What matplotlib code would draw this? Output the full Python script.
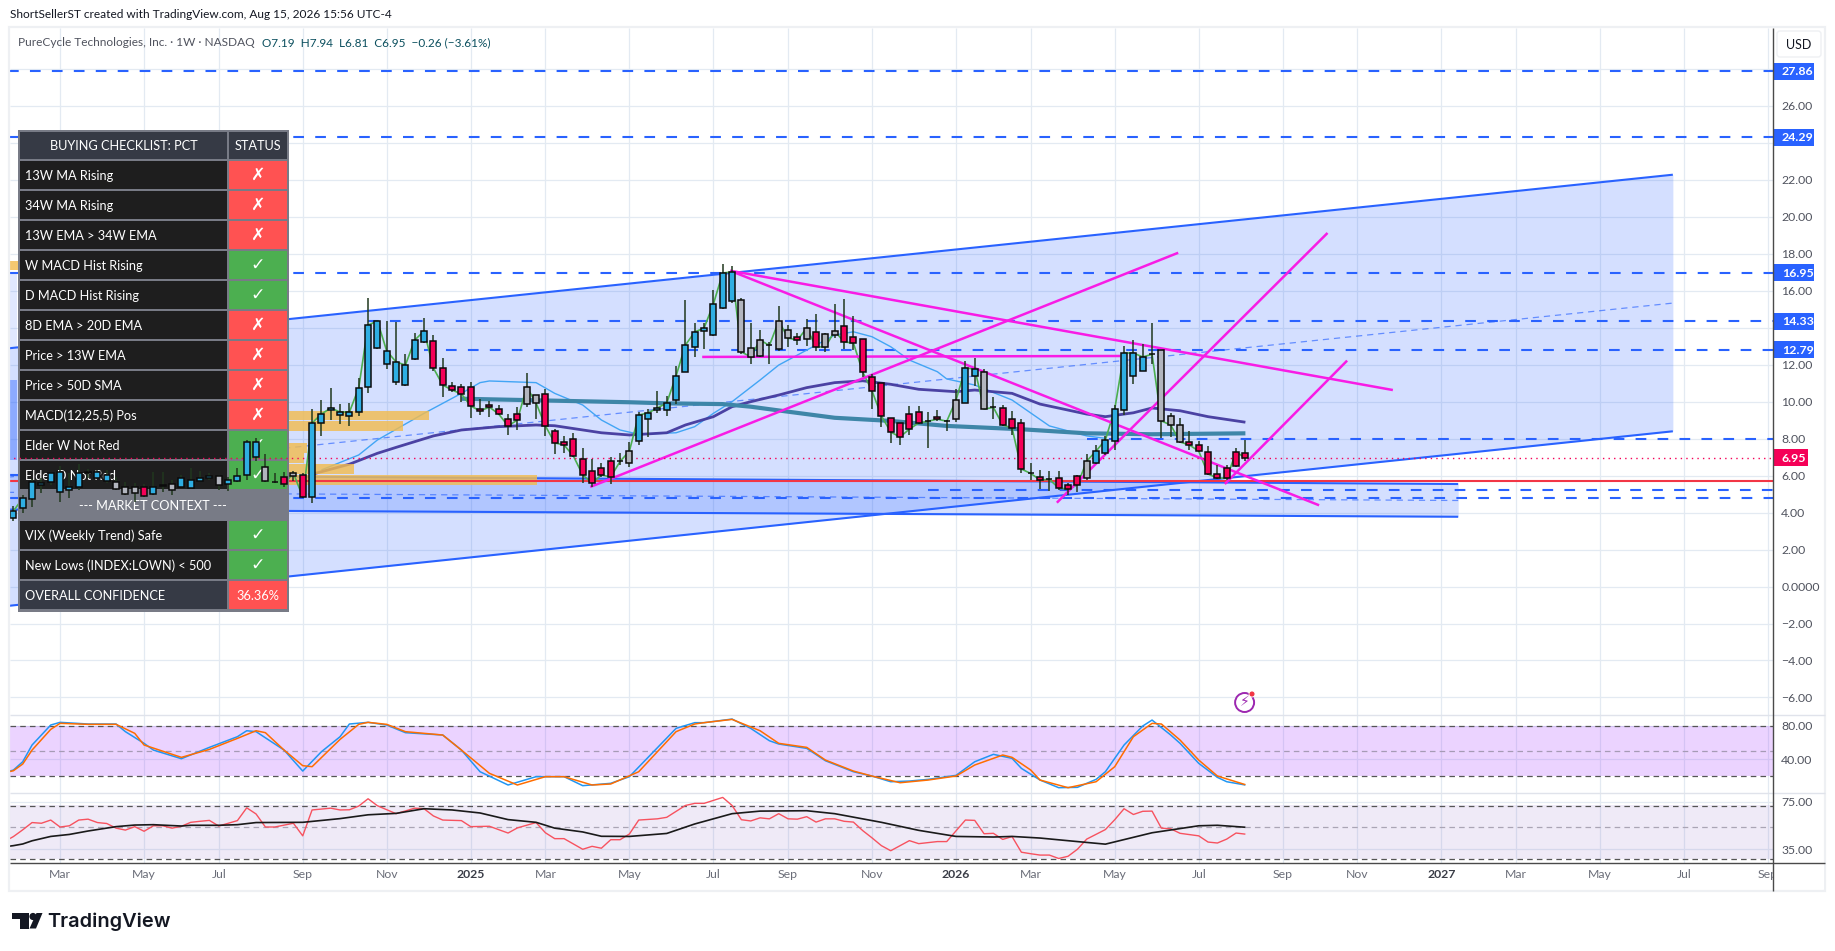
import matplotlib
matplotlib.use("Agg")
import matplotlib.pyplot as plt
from matplotlib.patches import Rectangle, Polygon, Circle, FancyBboxPatch
from matplotlib.transforms import Affine2D

plt.rcParams['font.family'] = ['Lato', 'DejaVu Sans']
plt.rcParams['lines.scale_dashes'] = False
plt.rcParams['lines.solid_capstyle'] = 'butt'

# ---------- weekly candles ----------
opens = [3.72,4.26,4.71,5.47,5.63,5.12,5.20,5.36,6.12,5.85,5.69,5.63,5.36,5.36,5.39,4.98,5.49,5.20,5.36,5.31,5.69,5.85,5.47,5.52,5.69,
         6.01,7.00,6.46,5.67,5.92,5.97,6.03,4.84,8.84,9.54,9.27,9.22,9.43,10.78,12.89,12.03,11.05,10.89,12.30,13.22,13.27,11.81,10.84,10.78,10.78,
         9.59,9.81,9.59,9.05,9.32,9.86,10.35,10.41,8.41,7.81,7.97,6.89,6.24,6.41,6.78,6.80,6.68,7.87,9.05,9.54,9.54,10.08,11.59,12.95,13.81,
         13.59,15.05,15.43,15.49,12.89,12.46,13.07,12.84,13.86,13.49,13.38,13.76,13.65,13.59,14.08,13.49,13.38,11.32,11.00,9.11,8.84,9.32,9.43,8.97,9.16,
         8.97,9.05,9.92,11.38,11.59,9.72,9.65,9.05,8.84,6.15,5.92,5.83,5.86,5.49,5.97,5.86,6.68,7.22,7.87,9.54,11.38,11.65,12.59,12.78,9.22,
         8.73,7.81,7.65,7.27,6.08,6.41,6.51,7.19]
highs = [4.35,4.95,5.81,5.85,6.19,6.51,6.13,6.62,6.35,6.30,6.30,5.93,5.66,5.59,5.54,6.20,6.20,5.76,6.03,6.39,6.26,6.15,6.03,5.90,6.39,
         7.90,8.03,7.16,6.13,6.19,6.24,6.13,9.59,10.08,10.73,9.86,9.92,11.27,15.59,14.35,14.35,14.30,12.57,13.70,14.51,13.59,12.35,11.05,10.95,11.05,
         10.14,10.03,9.81,9.32,9.70,11.54,10.35,10.68,8.51,8.14,8.30,7.49,6.89,6.68,7.00,7.22,7.81,9.43,9.59,10.57,10.30,11.92,15.49,14.24,14.24,
         16.03,17.43,17.32,15.59,14.24,13.86,13.22,15.16,14.14,13.70,14.46,14.73,13.70,15.27,15.54,14.62,13.38,11.49,11.00,9.11,8.84,9.76,9.76,9.43,9.54,
         9.00,10.68,12.19,12.35,11.76,10.24,9.81,9.49,9.05,6.68,6.30,6.24,6.24,5.59,6.03,7.16,7.65,8.14,9.81,13.00,13.32,13.11,14.24,12.78,9.38,
         9.11,8.41,7.86,7.59,6.57,6.57,7.49,7.94]
lows = [3.54,3.97,4.30,5.05,5.49,4.57,4.78,5.22,5.86,5.81,5.59,5.22,4.95,4.58,4.85,4.95,5.11,4.95,5.31,5.27,5.66,5.76,5.22,5.18,5.63,
        5.76,6.80,5.65,5.59,5.38,5.70,4.78,4.51,8.13,9.00,8.78,8.68,9.22,10.46,12.84,11.76,10.89,10.84,12.24,13.16,11.65,10.24,10.51,9.97,9.11,
        9.27,9.16,9.27,8.19,8.46,9.70,9.05,8.14,7.16,7.22,7.00,5.59,5.38,5.92,5.54,6.57,6.46,7.65,8.08,9.38,9.22,9.86,11.59,12.41,12.84,
        13.54,15.00,15.32,12.57,12.03,12.41,12.05,12.73,12.95,13.05,13.00,12.73,12.68,13.43,12.84,12.78,11.32,9.59,8.62,7.76,7.65,8.19,8.78,7.49,8.95,
        8.41,8.89,9.92,10.84,9.59,9.05,8.68,8.19,6.13,5.76,5.27,5.16,5.22,4.95,5.11,5.76,6.62,7.11,7.38,9.27,10.95,11.65,12.03,8.03,8.08,
        7.76,7.38,7.27,6.03,5.81,5.76,6.46,6.81]
closes = [4.08,4.77,5.66,5.58,6.12,6.20,5.36,6.12,6.20,6.17,6.01,5.25,4.98,5.04,4.87,5.36,5.43,5.52,5.85,5.74,5.85,5.96,5.96,5.74,5.96,
          7.81,7.81,5.70,5.65,5.54,6.13,4.84,8.84,9.32,9.65,9.43,9.43,10.73,14.13,14.35,12.73,12.14,11.97,13.32,13.81,11.81,10.89,10.62,10.41,9.76,
          9.49,9.70,9.32,8.68,9.00,10.78,9.92,8.68,7.76,7.65,7.05,6.03,5.59,6.03,5.92,6.76,7.32,9.27,9.38,9.65,9.92,11.38,13.05,13.76,13.97,
          15.27,16.95,17.00,12.68,12.41,13.32,13.03,14.35,13.43,13.32,13.97,12.95,12.95,13.81,13.22,13.16,11.59,10.57,9.22,8.35,8.08,8.51,8.84,8.93,9.05,
          8.93,10.08,11.81,11.76,9.59,9.68,8.73,8.57,6.35,6.11,5.76,5.79,5.32,5.27,5.49,6.78,7.32,7.92,9.59,12.62,12.62,12.41,12.55,8.95,8.73,
          7.81,7.65,7.32,6.08,5.86,5.86,7.27,6.95]
kinds = list("bbbbbbbbbbbgggrbkgbbbbgbb" "bbgkrgrbbbbbbbbbbbbbrrrrr"
             "rrrrrggrrrrrrrrkgbbbbbbbb" "bbbgggkggrgrggrrrrrrrrrkr"
             "kgbbgkrrrkrkrrrgbbbbbbkgg" "grrrrrrr")
candle_colors = {'b': '#2FAEE3', 'r': '#F50057', 'g': '#B2B5BE', 'k': '#111111'}

# ---------- moving averages, read at bar positions ----------
ma_long_x = [48,66,70,76,79,83,88,94,100,108,115,122,132]
ma_long_y = [10.15,9.96,9.90,9.86,9.72,9.45,9.12,8.95,8.68,8.50,8.28,8.23,8.28]
ma_mid_x = [32,36,39,41,45,48,52,56,58,63,66,70,72,75,77,79,82,85,88,91,94,97,101,103,107,110,115,117,120,122,125,128,132]
ma_mid_y = [6.07,6.61,7.20,7.52,8.14,8.46,8.64,8.73,8.69,8.31,8.19,8.31,8.73,9.18,9.72,9.99,10.35,10.75,11.02,11.12,10.93,10.66,10.53,10.62,10.44,9.86,9.32,9.18,9.39,9.65,9.50,9.18,8.88]
ma_fast_x = [33,37,39,44,48,50,51,56,58,61,63,65,67,71,73,75,77,80,82,85,88,90,92,94,96,99,100,103,107,111,115,117]
ma_fast_y = [6.30,7.11,7.92,9.36,10.44,11.02,11.11,11.02,10.44,9.81,9.00,8.46,8.23,8.31,8.64,9.36,9.99,11.16,11.97,12.78,13.59,13.77,13.50,12.96,12.24,11.61,11.22,10.89,10.08,8.68,8.14,8.01]

# ---------- drawn levels ----------
level_values = [27.86,24.29,16.95,14.33,12.79,7.97,5.22,4.78]
level_starts = [-0.6,-0.6,-0.6,38,44,115,98,-0.6]
axis_labels = ['27.86','24.29','16.95','14.33','12.79']
axis_label_values = [27.86,24.29,16.95,14.33,12.79]
last_close = 6.95
support_level = 5.70

# channels: start bar, end bar, then upper / lower values at start and end
wedge_x = [-0.6,177.8]
wedge_up = [12.87,22.26]
wedge_low = [-1.05,8.39]
wedge_mid = [5.91,15.32]
flat_x = [-0.6,154.8]
flat_up = [6.03,5.54]
flat_low = [4.16,3.77]
flat_mid = [5.09,4.65]

# magenta trend lines
trend_lines = [([73.8,118.6],[12.41,12.46]),
               ([61.8,124.8],[5.38,18.04]),
               ([76.8,147.8],[17.07,10.62]),
               ([76.8,139.9],[17.07,4.39]),
               ([111.8,140.8],[4.53,19.11]),
               ([129.8,142.9],[5.54,12.21])]

# orange zones: start bar, end bar, upper, lower
zone_start = [5,5,5,5,5,5,-0.6]
zone_end = [44.5,41.7,31.5,31.1,36.5,56.1,12]
zone_up = [9.49,8.96,7.74,7.20,6.62,6.01,17.59]
zone_low = [9.02,8.42,7.20,6.68,6.08,5.49,17.11]

# ---------- stochastic ----------
k_x = [-1,0,1,2,4,5,8,11,12,14,15,18,21,24,25,26,29,31,33,35,36,38,40,42,46,48,50,53,56,59,61,64,66,71,73,74,77,79,81,82,85,87,90,92,94,96,98,101,103,105,107,108,110,112,114,116,117,119,121,122,124,125,127,129,130,132]
k_y = [24.0,27.2,37.1,57.0,80.8,84.0,82.0,82.0,72.9,59.0,51.0,40.7,54.2,66.9,74.0,72.9,51.0,26.0,49.0,66.9,82.0,84.0,80.8,71.7,68.9,51.0,25.2,9.4,19.3,19.3,8.6,11.4,19.3,76.8,83.6,83.6,87.9,76.8,62.1,58.2,53.0,38.3,25.2,20.0,13.3,14.1,16.1,20.9,37.1,45.9,41.1,29.2,15.3,6.2,6.6,16.1,25.2,57.0,79.6,86.7,68.9,59.0,35.2,18.5,13.3,9.4]
d_x = [-1,0,1,2,4,5,8,11,13,14,18,21,24,26,27,29,31,32,35,37,38,40,42,46,48,51,54,57,59,62,64,67,71,73,74,77,80,82,85,87,90,92,95,98,101,103,106,107,109,110,113,116,118,120,122,123,125,127,129,132]
d_y = [24.0,26.4,34.4,51.0,75.6,82.8,81.6,81.6,70.9,57.0,42.3,51.8,64.9,74.0,71.7,51.0,32.4,31.2,63.7,81.6,84.0,81.6,72.9,68.9,51.0,23.3,9.4,19.3,19.3,9.4,10.6,25.2,72.9,82.0,83.6,87.5,74.0,59.0,54.2,39.1,26.0,20.0,12.1,15.3,20.1,33.2,45.1,42.3,27.2,15.3,6.2,13.3,31.2,66.9,82.8,82.0,62.9,39.1,20.1,9.8]
stoch_levels = [80,50,20]

# ---------- RSI ----------
rsi_x = [-1,0,1,2,3,4,5,6,7,8,9,10,11,12,13,14,15,16,17,18,19,20,21,22,24,25,26,27,28,30,31,32,34,35,36,37,38,39,41,43,44,45,46,48,49,51,53,54,56,57,58,59,61,62,63,64,65,66,67,69,70,72,73,74,76,77,78,79,80,81,82,83,84,85,86,87,88,89,90,91,92,93,94,96,97,99,100,102,103,104,105,106,107,108,109,110,111,112,113,114,115,117,118,119,120,121,122,123,124,125,127,128,129,130,131,132]
rsi_y = [39.5,42.9,47.8,53.7,53.1,55.9,50.0,51.0,55.9,56.7,53.7,52.9,49.1,47.6,50.3,46.7,51.0,51.0,49.1,50.6,53.9,54.8,55.6,50.8,55.4,68.0,61.6,50.0,50.0,53.1,43.4,65.7,67.6,65.7,65.9,69.9,78.6,70.3,61.9,67.6,67.0,59.7,55.9,55.4,50.3,50.6,45.4,49.3,53.7,45.6,41.5,41.5,35.0,36.7,35.6,40.8,40.8,44.7,55.9,57.0,58.4,70.6,73.0,73.0,80.3,70.6,56.2,55.1,57.9,57.0,61.9,57.0,56.7,59.0,54.1,57.0,57.0,54.8,54.1,47.2,42.0,37.1,34.2,40.2,38.3,39.6,39.6,55.9,55.6,44.9,45.2,41.0,42.9,33.4,32.6,31.9,31.9,30.2,31.3,35.0,41.2,48.0,56.2,67.0,61.1,64.3,64.5,49.1,48.6,45.2,43.4,39.3,38.7,41.2,45.4,44.6]
rsi_ma_x = [-1,0,1,2,4,6,8,11,13,15,18,19,22,24,26,31,35,38,41,44,47,50,53,56,58,61,63,66,70,73,77,80,85,88,93,97,101,105,107,110,114,117,122,127,129,132]
rsi_ma_y = [36.4,37.1,38.1,40.1,43.0,44.4,46.9,50.3,51.6,51.9,50.8,51.4,51.4,51.9,53.7,53.9,57.2,60.8,62.2,67.0,65.7,62.6,56.3,53.9,49.1,46.2,43.1,43.0,45.1,52.5,61.9,64.5,64.9,61.9,53.9,47.4,43.0,42.6,43.0,41.9,39.6,38.0,45.6,51.0,51.4,49.8]
rsi_levels = [70,50,30]

# ---------- axes labels ----------
month_ticks = [5,14,22,31,40,49,57,66,75,83,92,101,109,118,127,136,144,153,161,170,179,188]
month_labels = ['Mar','May','Jul','Sep','Nov','2025','Mar','May','Jul','Sep','Nov','2026','Mar','May','Jul','Sep','Nov','2027','Mar','May','Jul','Sep']
price_ticks = [28,26,24,22,20,18,16,14,12,10,8,6,4,2,0,-2,-4,-6]
price_tick_labels = ['','26.00','','22.00','20.00','18.00','16.00','','12.00','10.00','8.00','6.00','4.00','2.00','0.0000','\u22122.00','\u22124.00','\u22126.00']

# ---------- table ----------
table_rows = ['13W MA Rising','34W MA Rising','13W EMA > 34W EMA','W MACD Hist Rising','D MACD Hist Rising','8D EMA > 20D EMA',
              'Price > 13W EMA','Price > 50D SMA','MACD(12,25,5) Pos','Elder W Not Red','Elder D Not Red','--- MARKET CONTEXT ---',
              'VIX (Weekly Trend) Safe','New Lows (INDEX:LOWN) < 500']
table_status = [0,0,0,1,1,0,0,0,0,1,1,None,1,1]

W, H = 1835, 951
LOGIC_L, LOGIC_R = 9.5, 1773
XMIN, XMAX = -0.418, 188.53
fig = plt.figure(figsize=(W/100, H/100), dpi=100, facecolor='white')
px = Affine2D().scale(1, -1).translate(0, H)

def pane(top, bot):
    a = fig.add_axes([LOGIC_L/W, (H-bot)/H, (LOGIC_R-LOGIC_L)/W, (bot-top)/H])
    for s in a.spines.values():
        s.set_visible(False)
    a.set_facecolor('none')
    a.set_xlim(XMIN, XMAX)
    a.set_xticks(month_ticks)
    a.tick_params(length=0, labelbottom=False, labelleft=False)
    a.grid(axis='both', which='major', color='#E3EAF2', lw=0.9, zorder=0)
    a.set_axisbelow(True)
    a.yaxis.tick_right()
    return a

ax = pane(28, 714.5)
ax1 = pane(714.5, 793)
ax2 = pane(793, 863)
TEXT = '#50535E'
TS = 8.8

# ---- price pane ----
ax.set_ylim(-6.919, 30.19)
ax.set_yticks(price_ticks)
ax.set_yticklabels(price_tick_labels, fontsize=TS, color=TEXT, ha='left')
ax.tick_params(axis='y', pad=6, labelright=True, length=0)

BL = '#2962FF'
ax.fill_between(wedge_x, wedge_up, wedge_low, color=BL, alpha=0.2, lw=0, zorder=1)
ax.fill_between(flat_x, flat_up, flat_low, color=BL, alpha=0.2, lw=0, zorder=1)
ax.fill_between([-0.6, 0.4], [17.0, 17.0], [12.9, 12.9], color=BL, alpha=0.14, lw=0, zorder=1)
ax.fill_between([-0.6, 0.4], [11.16, 11.16], [6.84, 6.84], color=BL, alpha=0.42, lw=0, zorder=1)
for yy in (wedge_up, wedge_low):
    ax.plot(wedge_x, yy, color=BL, lw=1.5, zorder=3)
for yy in (flat_up, flat_low):
    ax.plot(flat_x, yy, color=BL, lw=1.5, zorder=3)
for xx, yy in ((wedge_x, wedge_mid), (flat_x, flat_mid)):
    ax.plot(xx, yy, color=BL, lw=0.9, ls=(0, (4.5, 3.5)), alpha=0.65, zorder=3)
for v, s in zip(level_values, level_starts):
    ax.plot([s, 188.53], [v, v], color=BL, lw=1.5, ls=(0, (7.7, 8.1)), zorder=3)

ax.plot(ma_fast_x, ma_fast_y, color='#42A5F5', lw=1.0, zorder=4)
ax.plot(ma_mid_x, ma_mid_y, color='#443A9E', lw=2.0, alpha=0.95, zorder=4)
ax.plot(ma_long_x, ma_long_y, color='#3E86A8', lw=3.0, zorder=4)

for st, e, u, l in zip(zone_start, zone_end, zone_up, zone_low):
    ax.fill_between([st, e], [u, u], [l, l], color='#F2BC50', alpha=0.82, lw=0, zorder=5)
ax.plot([-0.6, 188.53], [support_level]*2, color='#F23645', lw=1.5, zorder=6)

ax.plot(range(len(closes)), closes, color='#4CAF50', lw=1.2, zorder=6.2)
for xx, yy in trend_lines:
    ax.plot(xx, yy, color='#F81CE5', lw=1.8, zorder=6.5)

# ---- table (pixel layout, below the candles) ----
TL, TM, TR = 20, 227, 229
TE = 287
def cell(x0, y0, x1, y1, c, z=7):
    ax.add_patch(Rectangle((x0, y0), x1-x0, y1-y0, transform=px, fc=c, ec='none', zorder=z, clip_on=False))
def ttext(x, y, s, ha='left', c='white', fs=9.2, weight='normal', fam=None):
    t = ax.text(x, y, s, transform=px, ha=ha, va='center', color=c, fontsize=fs, fontweight=weight, zorder=7.2, clip_on=False)
    if fam:
        t.set_fontfamily(fam)
cell(18, 130, 289, 612, '#787B86', z=6.9)
cell(TL, 132, TM, 159, '#363A45')
cell(TR, 132, TE, 159, '#363A45')
ttext((TL+TM)/2, 145.5, 'BUYING CHECKLIST: PCT', ha='center')
ttext((TR+TE)/2, 145.5, 'STATUS', ha='center')
for k, (name, st) in enumerate(zip(table_rows, table_status)):
    y0 = 160 + 30*k
    if st is None:
        ttext(153, y0+15.5, name, ha='center')
        continue
    cell(TL, y0+1, TM, y0+29, '#1E1E1E')
    cell(TR, y0+1, TE, y0+29, '#4CAF50' if st else '#FF5252')
    ttext(25, y0+15.5, name)
    ttext((TR+TE)/2, y0+15, '\u2713' if st else '\u2717', ha='center', fs=12.5, weight='bold', fam='DejaVu Sans')
y0 = 160 + 30*14
cell(TL, y0+1, TM, y0+29, '#363A45')
cell(TR, y0+1, TE, y0+29, '#FF5252')
ttext(25, y0+15.5, 'OVERALL CONFIDENCE')
ttext((TR+TE)/2, y0+15.5, '36.36%', ha='center')

# ---- candles above the table ----
ax.plot([-0.6, 188.53], [last_close]*2, color='#F50057', lw=1.0, ls=(0, (1, 3)), zorder=7.5)
xs = list(range(len(closes)))
ax.vlines(xs, lows, highs, color='#21381E', lw=1.1, zorder=8)
for i in xs:
    top = max(opens[i], closes[i]); bot = min(opens[i], closes[i])
    ax.add_patch(Rectangle((i-0.33, bot), 0.66, top-bot, fc=candle_colors[kinds[i]], ec='#0B0B0B', lw=1.1, zorder=8.5))

# ---- stochastic pane ----
ax1.set_ylim(-0.12, 93.33)
ax1.set_yticks([80, 40])
ax1.set_yticklabels(['80.00', '40.00'], fontsize=TS, color=TEXT, ha='left')
ax1.tick_params(axis='y', pad=6, labelright=True, length=0)
ax1.axhspan(stoch_levels[2], stoch_levels[0], color='#9C27FF', alpha=0.2, lw=0, zorder=1)
for v, c in zip(stoch_levels, ['#555555', '#A69BB5', '#555555']):
    ax1.axhline(v, color=c, lw=0.9, ls=(0, (4, 3)), zorder=2)
ax1.plot(k_x, k_y, color='#2196F3', lw=1.1, zorder=4)
ax1.plot(d_x, d_y, color='#FF6D00', lw=1.1, zorder=4)

# ---- RSI pane ----
ax2.set_yscale('log')
ax2.set_ylim(28.1, 86.2)
ax2.set_yticks([75, 35])
ax2.set_yticks([], minor=True)
ax2.set_yticklabels(['75.00', '35.00'], fontsize=TS, color=TEXT, ha='left')
ax2.tick_params(axis='y', pad=6, labelright=True, length=0, which='both')
ax2.axhspan(rsi_levels[2], 71, color='#7E57C2', alpha=0.12, lw=0, zorder=1)
for v, c in zip(rsi_levels, ['#555555', '#AAA5B5', '#555555']):
    ax2.axhline(v, color=c, lw=0.9, ls=(0, (4, 3)), zorder=2)
ax2.plot(rsi_x, rsi_y, color='#F7525F', lw=1.0, zorder=4)
ax2.plot(rsi_ma_x, rsi_ma_y, color='#1A1A1A', lw=1.2, zorder=4)
ax2.set_xticks(month_ticks)
ax2.set_xticklabels(month_labels, fontsize=TS, color='#6A6D78')
ax2.tick_params(axis='x', pad=4.5, labelbottom=True, length=0)
for lab, s in zip(ax2.get_xticklabels(), month_labels):
    if s.isdigit():
        lab.set_fontweight('bold')
        lab.set_color('#3A3D47')

# ---- figure-level frame, price labels ----
def frect(x0, y0, x1, y1, fc, ec='none', lw=0, z=10):
    fig.add_artist(Rectangle((x0, y0), x1-x0, y1-y0, transform=px, fc=fc, ec=ec, lw=lw, zorder=z))
def fline(x0, y0, x1, y1, c, lw, z=12):
    fig.add_artist(plt.Line2D([x0, x1], [y0, y1], transform=px, color=c, lw=lw, zorder=z))
def ftext(x, y, s, c='black', fs=9.1, ha='left', weight='normal', z=14):
    return fig.text(x, H-y, s, transform=None, color=c, fontsize=fs, ha=ha, va='center', fontweight=weight, zorder=z)

frect(1773.5, 864, 1824, 889, 'white')
frect(9, 27, 1825, 891, 'none', ec='#EEF0F3', lw=1.6, z=9)
fline(1773, 28, 1773, 891, '#4A4A4A', 1.0)
fline(9.5, 863, 1825, 863, '#4A4A4A', 1.0)
fline(9.5, 714.5, 1825, 714.5, '#E0E3EB', 1.0, z=9)
fline(9.5, 793, 1825, 793, '#E0E3EB', 1.0, z=9)

def y_price(v):
    return 586.5 - 18.5*v
for s, v in zip(axis_labels, axis_label_values):
    yp = y_price(v)
    frect(1774, yp-8.5, 1814, yp+8.5, BL, z=11)
    ftext(1782, yp+0.5, s, c='white', fs=8.9, weight='bold')
yp = y_price(last_close)
frect(1774, yp-8.5, 1808, yp+8.5, '#F50057', z=11)
ftext(1781.5, yp+0.5, '6.95', c='white', fs=8.9, weight='bold')

fig.add_artist(FancyBboxPatch((1779, 33), 40, 22, boxstyle='round,pad=2,rounding_size=3', transform=px,
                              fc='white', ec='#EEF0F3', lw=1.0, zorder=11))
ftext(1799, 45, 'USD', c='#131722', fs=9.0, ha='center')

ftext(9.5, 15, 'ShortSellerST created with TradingView.com, Aug 15, 2026 15:56 UTC-4', c='#131722', fs=8.6)
ftext(18, 42.5, 'PureCycle Technologies, Inc. \u00b7 1W \u00b7 NASDAQ', c='#50535E', fs=8.6)
ftext(262, 42.5, 'O7.19  H7.94  L6.81  C6.95  \u22120.26 (\u22123.61%)', c='#0B4F5E', fs=8.5)

# flash icon
fig.add_artist(Circle((1244.6, 702.5), 9.5, transform=px, fc='white', ec='#9C27B0', lw=1.4, zorder=11))
ftext(1244.6, 702.5, '\u26A1', c='#9C27B0', fs=10, ha='center').set_fontfamily('DejaVu Sans')
fig.add_artist(Circle((1252, 694), 3, transform=px, fc='#F23645', ec='white', lw=0.6, zorder=12))

# logo
frect(12, 913, 29, 918.5, '#131722', z=12)
frect(20, 918, 29, 928.5, '#131722', z=12)
fig.add_artist(Circle((33, 916.5), 3.6, transform=px, fc='#131722', ec='none', zorder=12))
fig.add_artist(Polygon([(36.5, 913), (42.5, 913), (36, 928.5), (29.5, 928.5)], transform=px, fc='#131722', ec='none', zorder=12))
ftext(47.5, 921.5, 'TradingView', c='#131722', fs=14.4, weight='semibold').set_fontfamily('Inter')

for a in (ax, ax1, ax2):
    a.set_xlim(XMIN, XMAX)
ax.set_ylim(-6.919, 30.19)
fig.savefig('out.png', dpi=100, facecolor='white')
